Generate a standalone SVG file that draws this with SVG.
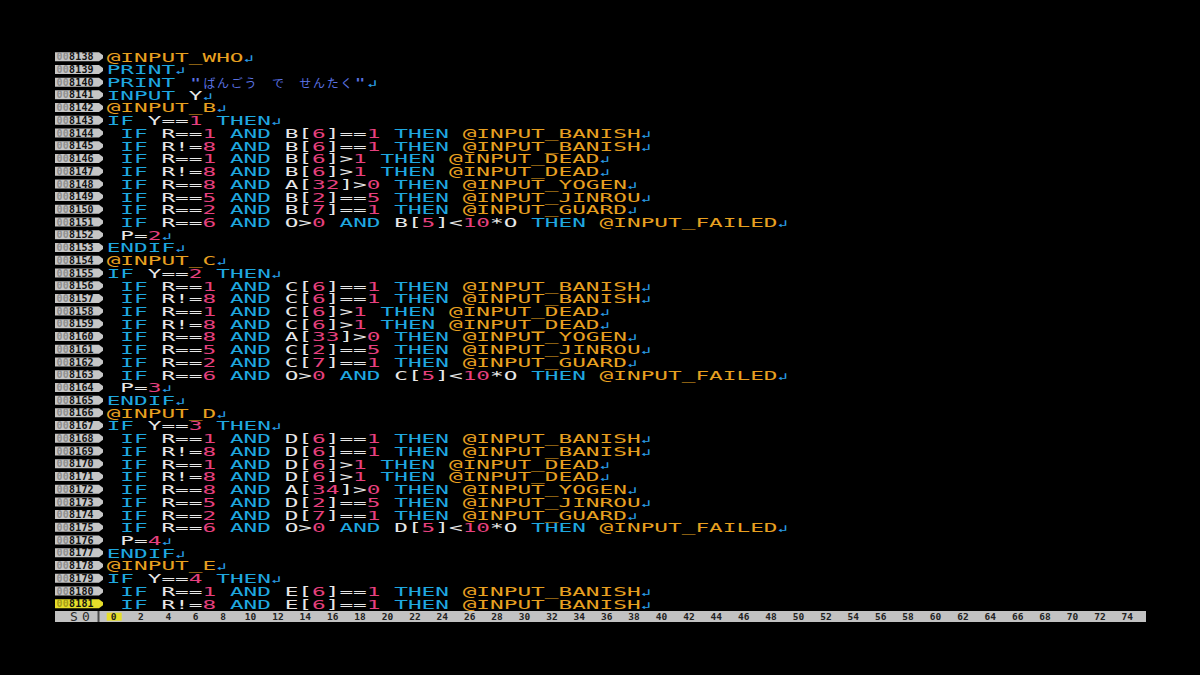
<svg xmlns="http://www.w3.org/2000/svg" xmlns:xlink="http://www.w3.org/1999/xlink" width="1200" height="675" viewBox="0 0 1200 675">
<style>
.code text{font-family:"DejaVu Sans Mono","Liberation Mono",monospace;font-size:13px;fill:#e8e8e8}
.k{fill:#1fa8e0}.l{fill:#e8a020}.n{fill:#e6407e}.s{fill:#5a72e2}.r{fill:#2a9ee8;font-size:10px}
.nb{fill:#c6c6c6}.nbc{fill:#e6de2a}
.ln{font-family:"DejaVu Sans Mono","Liberation Mono",monospace;font-weight:bold;font-size:10px;letter-spacing:0.2px;fill:#111}
.z{fill:#8e8e8e}.zc{fill:#a59c18}
.rn{font-family:"DejaVu Sans Mono","Liberation Mono",monospace;font-weight:bold;font-size:9.5px;fill:#222;text-anchor:middle}
.kana{font-family:"Noto Sans CJK JP",sans-serif;font-size:12px;fill:#5a72e2;text-anchor:middle}
</style>
<defs>
<path id="nbx" d="M0,-4.5 H44 L48,-1.5 V1.5 L44,4.5 H0 Z"/>
</defs>
<rect width="1200" height="675" fill="#000"/>
<g id="linenumbers">
<use xlink:href="#nbx" x="55" y="56.70" class="nb"/><text class="ln" x="56.5" y="60.3"><tspan class="z">00</tspan>8138</text>
<use xlink:href="#nbx" x="55" y="69.42" class="nb"/><text class="ln" x="56.5" y="73.02"><tspan class="z">00</tspan>8139</text>
<use xlink:href="#nbx" x="55" y="82.14" class="nb"/><text class="ln" x="56.5" y="85.74"><tspan class="z">00</tspan>8140</text>
<use xlink:href="#nbx" x="55" y="94.86" class="nb"/><text class="ln" x="56.5" y="98.46"><tspan class="z">00</tspan>8141</text>
<use xlink:href="#nbx" x="55" y="107.58" class="nb"/><text class="ln" x="56.5" y="111.18"><tspan class="z">00</tspan>8142</text>
<use xlink:href="#nbx" x="55" y="120.30" class="nb"/><text class="ln" x="56.5" y="123.90"><tspan class="z">00</tspan>8143</text>
<use xlink:href="#nbx" x="55" y="133.02" class="nb"/><text class="ln" x="56.5" y="136.62"><tspan class="z">00</tspan>8144</text>
<use xlink:href="#nbx" x="55" y="145.74" class="nb"/><text class="ln" x="56.5" y="149.34"><tspan class="z">00</tspan>8145</text>
<use xlink:href="#nbx" x="55" y="158.46" class="nb"/><text class="ln" x="56.5" y="162.06"><tspan class="z">00</tspan>8146</text>
<use xlink:href="#nbx" x="55" y="171.18" class="nb"/><text class="ln" x="56.5" y="174.78"><tspan class="z">00</tspan>8147</text>
<use xlink:href="#nbx" x="55" y="183.90" class="nb"/><text class="ln" x="56.5" y="187.50"><tspan class="z">00</tspan>8148</text>
<use xlink:href="#nbx" x="55" y="196.62" class="nb"/><text class="ln" x="56.5" y="200.22"><tspan class="z">00</tspan>8149</text>
<use xlink:href="#nbx" x="55" y="209.34" class="nb"/><text class="ln" x="56.5" y="212.94"><tspan class="z">00</tspan>8150</text>
<use xlink:href="#nbx" x="55" y="222.06" class="nb"/><text class="ln" x="56.5" y="225.66"><tspan class="z">00</tspan>8151</text>
<use xlink:href="#nbx" x="55" y="234.78" class="nb"/><text class="ln" x="56.5" y="238.38"><tspan class="z">00</tspan>8152</text>
<use xlink:href="#nbx" x="55" y="247.50" class="nb"/><text class="ln" x="56.5" y="251.10"><tspan class="z">00</tspan>8153</text>
<use xlink:href="#nbx" x="55" y="260.22" class="nb"/><text class="ln" x="56.5" y="263.82"><tspan class="z">00</tspan>8154</text>
<use xlink:href="#nbx" x="55" y="272.94" class="nb"/><text class="ln" x="56.5" y="276.54"><tspan class="z">00</tspan>8155</text>
<use xlink:href="#nbx" x="55" y="285.66" class="nb"/><text class="ln" x="56.5" y="289.26"><tspan class="z">00</tspan>8156</text>
<use xlink:href="#nbx" x="55" y="298.38" class="nb"/><text class="ln" x="56.5" y="301.98"><tspan class="z">00</tspan>8157</text>
<use xlink:href="#nbx" x="55" y="311.10" class="nb"/><text class="ln" x="56.5" y="314.70"><tspan class="z">00</tspan>8158</text>
<use xlink:href="#nbx" x="55" y="323.82" class="nb"/><text class="ln" x="56.5" y="327.42"><tspan class="z">00</tspan>8159</text>
<use xlink:href="#nbx" x="55" y="336.54" class="nb"/><text class="ln" x="56.5" y="340.14"><tspan class="z">00</tspan>8160</text>
<use xlink:href="#nbx" x="55" y="349.26" class="nb"/><text class="ln" x="56.5" y="352.86"><tspan class="z">00</tspan>8161</text>
<use xlink:href="#nbx" x="55" y="361.98" class="nb"/><text class="ln" x="56.5" y="365.58"><tspan class="z">00</tspan>8162</text>
<use xlink:href="#nbx" x="55" y="374.70" class="nb"/><text class="ln" x="56.5" y="378.30"><tspan class="z">00</tspan>8163</text>
<use xlink:href="#nbx" x="55" y="387.42" class="nb"/><text class="ln" x="56.5" y="391.02"><tspan class="z">00</tspan>8164</text>
<use xlink:href="#nbx" x="55" y="400.14" class="nb"/><text class="ln" x="56.5" y="403.74"><tspan class="z">00</tspan>8165</text>
<use xlink:href="#nbx" x="55" y="412.86" class="nb"/><text class="ln" x="56.5" y="416.46"><tspan class="z">00</tspan>8166</text>
<use xlink:href="#nbx" x="55" y="425.58" class="nb"/><text class="ln" x="56.5" y="429.18"><tspan class="z">00</tspan>8167</text>
<use xlink:href="#nbx" x="55" y="438.30" class="nb"/><text class="ln" x="56.5" y="441.90"><tspan class="z">00</tspan>8168</text>
<use xlink:href="#nbx" x="55" y="451.02" class="nb"/><text class="ln" x="56.5" y="454.62"><tspan class="z">00</tspan>8169</text>
<use xlink:href="#nbx" x="55" y="463.74" class="nb"/><text class="ln" x="56.5" y="467.34"><tspan class="z">00</tspan>8170</text>
<use xlink:href="#nbx" x="55" y="476.46" class="nb"/><text class="ln" x="56.5" y="480.06"><tspan class="z">00</tspan>8171</text>
<use xlink:href="#nbx" x="55" y="489.18" class="nb"/><text class="ln" x="56.5" y="492.78"><tspan class="z">00</tspan>8172</text>
<use xlink:href="#nbx" x="55" y="501.90" class="nb"/><text class="ln" x="56.5" y="505.50"><tspan class="z">00</tspan>8173</text>
<use xlink:href="#nbx" x="55" y="514.62" class="nb"/><text class="ln" x="56.5" y="518.22"><tspan class="z">00</tspan>8174</text>
<use xlink:href="#nbx" x="55" y="527.34" class="nb"/><text class="ln" x="56.5" y="530.94"><tspan class="z">00</tspan>8175</text>
<use xlink:href="#nbx" x="55" y="540.06" class="nb"/><text class="ln" x="56.5" y="543.66"><tspan class="z">00</tspan>8176</text>
<use xlink:href="#nbx" x="55" y="552.78" class="nb"/><text class="ln" x="56.5" y="556.38"><tspan class="z">00</tspan>8177</text>
<use xlink:href="#nbx" x="55" y="565.50" class="nb"/><text class="ln" x="56.5" y="569.10"><tspan class="z">00</tspan>8178</text>
<use xlink:href="#nbx" x="55" y="578.22" class="nb"/><text class="ln" x="56.5" y="581.82"><tspan class="z">00</tspan>8179</text>
<use xlink:href="#nbx" x="55" y="590.94" class="nb"/><text class="ln" x="56.5" y="594.54"><tspan class="z">00</tspan>8180</text>
<use xlink:href="#nbx" x="55" y="603.66" class="nbc"/><text class="ln" x="56.5" y="607.26"><tspan class="zc">00</tspan>8181</text>
</g>
<g id="code" class="code" transform="matrix(1.7504,0,0,1,106.65,0)">
<text x="0" y="61.60"><tspan class="l">@INPUT_WHO</tspan><tspan class="r">↲</tspan></text>
<text x="0" y="74.32"><tspan class="k">PRINT</tspan><tspan class="r">↲</tspan></text>
<text x="0" y="87.04"><tspan class="k">PRINT</tspan> <tspan class="s">"</tspan></text>
<text x="140.88" y="87.04"><tspan class="s">"</tspan><tspan class="r">↲</tspan></text>
<text x="0" y="99.76"><tspan class="k">INPUT</tspan> Y<tspan class="r">↲</tspan></text>
<text x="0" y="112.48"><tspan class="l">@INPUT_B</tspan><tspan class="r">↲</tspan></text>
<text x="0" y="125.20"><tspan class="k">IF</tspan> Y==<tspan class="n">1</tspan> <tspan class="k">THEN</tspan><tspan class="r">↲</tspan></text>
<text x="7.8267" y="137.92"><tspan class="k">IF</tspan> R==<tspan class="n">1</tspan> <tspan class="k">AND</tspan> B[<tspan class="n">6</tspan>]==<tspan class="n">1</tspan> <tspan class="k">THEN</tspan> <tspan class="l">@INPUT_BANISH</tspan><tspan class="r">↲</tspan></text>
<text x="7.8267" y="150.64"><tspan class="k">IF</tspan> R!=<tspan class="n">8</tspan> <tspan class="k">AND</tspan> B[<tspan class="n">6</tspan>]==<tspan class="n">1</tspan> <tspan class="k">THEN</tspan> <tspan class="l">@INPUT_BANISH</tspan><tspan class="r">↲</tspan></text>
<text x="7.8267" y="163.36"><tspan class="k">IF</tspan> R==<tspan class="n">1</tspan> <tspan class="k">AND</tspan> B[<tspan class="n">6</tspan>]&gt;<tspan class="n">1</tspan> <tspan class="k">THEN</tspan> <tspan class="l">@INPUT_DEAD</tspan><tspan class="r">↲</tspan></text>
<text x="7.8267" y="176.08"><tspan class="k">IF</tspan> R!=<tspan class="n">8</tspan> <tspan class="k">AND</tspan> B[<tspan class="n">6</tspan>]&gt;<tspan class="n">1</tspan> <tspan class="k">THEN</tspan> <tspan class="l">@INPUT_DEAD</tspan><tspan class="r">↲</tspan></text>
<text x="7.8267" y="188.80"><tspan class="k">IF</tspan> R==<tspan class="n">8</tspan> <tspan class="k">AND</tspan> A[<tspan class="n">32</tspan>]&gt;<tspan class="n">0</tspan> <tspan class="k">THEN</tspan> <tspan class="l">@INPUT_YOGEN</tspan><tspan class="r">↲</tspan></text>
<text x="7.8267" y="201.52"><tspan class="k">IF</tspan> R==<tspan class="n">5</tspan> <tspan class="k">AND</tspan> B[<tspan class="n">2</tspan>]==<tspan class="n">5</tspan> <tspan class="k">THEN</tspan> <tspan class="l">@INPUT_JINROU</tspan><tspan class="r">↲</tspan></text>
<text x="7.8267" y="214.24"><tspan class="k">IF</tspan> R==<tspan class="n">2</tspan> <tspan class="k">AND</tspan> B[<tspan class="n">7</tspan>]==<tspan class="n">1</tspan> <tspan class="k">THEN</tspan> <tspan class="l">@INPUT_GUARD</tspan><tspan class="r">↲</tspan></text>
<text x="7.8267" y="226.96"><tspan class="k">IF</tspan> R==<tspan class="n">6</tspan> <tspan class="k">AND</tspan> O&gt;<tspan class="n">0</tspan> <tspan class="k">AND</tspan> B[<tspan class="n">5</tspan>]&lt;<tspan class="n">10</tspan>*O <tspan class="k">THEN</tspan> <tspan class="l">@INPUT_FAILED</tspan><tspan class="r">↲</tspan></text>
<text x="7.8267" y="239.68">P=<tspan class="n">2</tspan><tspan class="r">↲</tspan></text>
<text x="0" y="252.40"><tspan class="k">ENDIF</tspan><tspan class="r">↲</tspan></text>
<text x="0" y="265.12"><tspan class="l">@INPUT_C</tspan><tspan class="r">↲</tspan></text>
<text x="0" y="277.84"><tspan class="k">IF</tspan> Y==<tspan class="n">2</tspan> <tspan class="k">THEN</tspan><tspan class="r">↲</tspan></text>
<text x="7.8267" y="290.56"><tspan class="k">IF</tspan> R==<tspan class="n">1</tspan> <tspan class="k">AND</tspan> C[<tspan class="n">6</tspan>]==<tspan class="n">1</tspan> <tspan class="k">THEN</tspan> <tspan class="l">@INPUT_BANISH</tspan><tspan class="r">↲</tspan></text>
<text x="7.8267" y="303.28"><tspan class="k">IF</tspan> R!=<tspan class="n">8</tspan> <tspan class="k">AND</tspan> C[<tspan class="n">6</tspan>]==<tspan class="n">1</tspan> <tspan class="k">THEN</tspan> <tspan class="l">@INPUT_BANISH</tspan><tspan class="r">↲</tspan></text>
<text x="7.8267" y="316.00"><tspan class="k">IF</tspan> R==<tspan class="n">1</tspan> <tspan class="k">AND</tspan> C[<tspan class="n">6</tspan>]&gt;<tspan class="n">1</tspan> <tspan class="k">THEN</tspan> <tspan class="l">@INPUT_DEAD</tspan><tspan class="r">↲</tspan></text>
<text x="7.8267" y="328.72"><tspan class="k">IF</tspan> R!=<tspan class="n">8</tspan> <tspan class="k">AND</tspan> C[<tspan class="n">6</tspan>]&gt;<tspan class="n">1</tspan> <tspan class="k">THEN</tspan> <tspan class="l">@INPUT_DEAD</tspan><tspan class="r">↲</tspan></text>
<text x="7.8267" y="341.44"><tspan class="k">IF</tspan> R==<tspan class="n">8</tspan> <tspan class="k">AND</tspan> A[<tspan class="n">33</tspan>]&gt;<tspan class="n">0</tspan> <tspan class="k">THEN</tspan> <tspan class="l">@INPUT_YOGEN</tspan><tspan class="r">↲</tspan></text>
<text x="7.8267" y="354.16"><tspan class="k">IF</tspan> R==<tspan class="n">5</tspan> <tspan class="k">AND</tspan> C[<tspan class="n">2</tspan>]==<tspan class="n">5</tspan> <tspan class="k">THEN</tspan> <tspan class="l">@INPUT_JINROU</tspan><tspan class="r">↲</tspan></text>
<text x="7.8267" y="366.88"><tspan class="k">IF</tspan> R==<tspan class="n">2</tspan> <tspan class="k">AND</tspan> C[<tspan class="n">7</tspan>]==<tspan class="n">1</tspan> <tspan class="k">THEN</tspan> <tspan class="l">@INPUT_GUARD</tspan><tspan class="r">↲</tspan></text>
<text x="7.8267" y="379.60"><tspan class="k">IF</tspan> R==<tspan class="n">6</tspan> <tspan class="k">AND</tspan> O&gt;<tspan class="n">0</tspan> <tspan class="k">AND</tspan> C[<tspan class="n">5</tspan>]&lt;<tspan class="n">10</tspan>*O <tspan class="k">THEN</tspan> <tspan class="l">@INPUT_FAILED</tspan><tspan class="r">↲</tspan></text>
<text x="7.8267" y="392.32">P=<tspan class="n">3</tspan><tspan class="r">↲</tspan></text>
<text x="0" y="405.04"><tspan class="k">ENDIF</tspan><tspan class="r">↲</tspan></text>
<text x="0" y="417.76"><tspan class="l">@INPUT_D</tspan><tspan class="r">↲</tspan></text>
<text x="0" y="430.48"><tspan class="k">IF</tspan> Y==<tspan class="n">3</tspan> <tspan class="k">THEN</tspan><tspan class="r">↲</tspan></text>
<text x="7.8267" y="443.20"><tspan class="k">IF</tspan> R==<tspan class="n">1</tspan> <tspan class="k">AND</tspan> D[<tspan class="n">6</tspan>]==<tspan class="n">1</tspan> <tspan class="k">THEN</tspan> <tspan class="l">@INPUT_BANISH</tspan><tspan class="r">↲</tspan></text>
<text x="7.8267" y="455.92"><tspan class="k">IF</tspan> R!=<tspan class="n">8</tspan> <tspan class="k">AND</tspan> D[<tspan class="n">6</tspan>]==<tspan class="n">1</tspan> <tspan class="k">THEN</tspan> <tspan class="l">@INPUT_BANISH</tspan><tspan class="r">↲</tspan></text>
<text x="7.8267" y="468.64"><tspan class="k">IF</tspan> R==<tspan class="n">1</tspan> <tspan class="k">AND</tspan> D[<tspan class="n">6</tspan>]&gt;<tspan class="n">1</tspan> <tspan class="k">THEN</tspan> <tspan class="l">@INPUT_DEAD</tspan><tspan class="r">↲</tspan></text>
<text x="7.8267" y="481.36"><tspan class="k">IF</tspan> R!=<tspan class="n">8</tspan> <tspan class="k">AND</tspan> D[<tspan class="n">6</tspan>]&gt;<tspan class="n">1</tspan> <tspan class="k">THEN</tspan> <tspan class="l">@INPUT_DEAD</tspan><tspan class="r">↲</tspan></text>
<text x="7.8267" y="494.08"><tspan class="k">IF</tspan> R==<tspan class="n">8</tspan> <tspan class="k">AND</tspan> A[<tspan class="n">34</tspan>]&gt;<tspan class="n">0</tspan> <tspan class="k">THEN</tspan> <tspan class="l">@INPUT_YOGEN</tspan><tspan class="r">↲</tspan></text>
<text x="7.8267" y="506.80"><tspan class="k">IF</tspan> R==<tspan class="n">5</tspan> <tspan class="k">AND</tspan> D[<tspan class="n">2</tspan>]==<tspan class="n">5</tspan> <tspan class="k">THEN</tspan> <tspan class="l">@INPUT_JINROU</tspan><tspan class="r">↲</tspan></text>
<text x="7.8267" y="519.52"><tspan class="k">IF</tspan> R==<tspan class="n">2</tspan> <tspan class="k">AND</tspan> D[<tspan class="n">7</tspan>]==<tspan class="n">1</tspan> <tspan class="k">THEN</tspan> <tspan class="l">@INPUT_GUARD</tspan><tspan class="r">↲</tspan></text>
<text x="7.8267" y="532.24"><tspan class="k">IF</tspan> R==<tspan class="n">6</tspan> <tspan class="k">AND</tspan> O&gt;<tspan class="n">0</tspan> <tspan class="k">AND</tspan> D[<tspan class="n">5</tspan>]&lt;<tspan class="n">10</tspan>*O <tspan class="k">THEN</tspan> <tspan class="l">@INPUT_FAILED</tspan><tspan class="r">↲</tspan></text>
<text x="7.8267" y="544.96">P=<tspan class="n">4</tspan><tspan class="r">↲</tspan></text>
<text x="0" y="557.68"><tspan class="k">ENDIF</tspan><tspan class="r">↲</tspan></text>
<text x="0" y="570.40"><tspan class="l">@INPUT_E</tspan><tspan class="r">↲</tspan></text>
<text x="0" y="583.12"><tspan class="k">IF</tspan> Y==<tspan class="n">4</tspan> <tspan class="k">THEN</tspan><tspan class="r">↲</tspan></text>
<text x="7.8267" y="595.84"><tspan class="k">IF</tspan> R==<tspan class="n">1</tspan> <tspan class="k">AND</tspan> E[<tspan class="n">6</tspan>]==<tspan class="n">1</tspan> <tspan class="k">THEN</tspan> <tspan class="l">@INPUT_BANISH</tspan><tspan class="r">↲</tspan></text>
<text x="7.8267" y="608.56"><tspan class="k">IF</tspan> R!=<tspan class="n">8</tspan> <tspan class="k">AND</tspan> E[<tspan class="n">6</tspan>]==<tspan class="n">1</tspan> <tspan class="k">THEN</tspan> <tspan class="l">@INPUT_BANISH</tspan><tspan class="r">↲</tspan></text>
</g>
<text class="kana" y="88" x="209.4 223.1 236.8 250.5 277.9 305.3 319.0 332.7 346.4">ばんごうでせんたく</text>
<g id="ruler">
<rect x="55" y="611" width="1091" height="11" fill="#c2c2c2"/>
<rect x="97.5" y="611" width="2" height="11" fill="#4a4a4a"/>
<rect x="106.7" y="612.7" width="15" height="8" fill="#e6de2a"/>
<text x="74 86" y="621.2" style="font-family:'DejaVu Sans Mono','Liberation Mono',monospace;font-size:13px;fill:#2a2a2a;text-anchor:middle">S0</text>
<text class="rn" y="620.2"><tspan x="113.5">0</tspan><tspan x="140.9">2</tspan><tspan x="168.3">4</tspan><tspan x="195.7">6</tspan><tspan x="223.1">8</tspan><tspan x="250.5">10</tspan><tspan x="277.9">12</tspan><tspan x="305.3">14</tspan><tspan x="332.7">16</tspan><tspan x="360.1">18</tspan><tspan x="387.5">20</tspan><tspan x="414.9">22</tspan><tspan x="442.3">24</tspan><tspan x="469.7">26</tspan><tspan x="497.1">28</tspan><tspan x="524.5">30</tspan><tspan x="551.9">32</tspan><tspan x="579.3">34</tspan><tspan x="606.7">36</tspan><tspan x="634.1">38</tspan><tspan x="661.5">40</tspan><tspan x="688.9">42</tspan><tspan x="716.3">44</tspan><tspan x="743.7">46</tspan><tspan x="771.1">48</tspan><tspan x="798.5">50</tspan><tspan x="825.9">52</tspan><tspan x="853.3">54</tspan><tspan x="880.7">56</tspan><tspan x="908.1">58</tspan><tspan x="935.5">60</tspan><tspan x="962.9">62</tspan><tspan x="990.3">64</tspan><tspan x="1017.7">66</tspan><tspan x="1045.1">68</tspan><tspan x="1072.5">70</tspan><tspan x="1099.9">72</tspan><tspan x="1127.3">74</tspan></text>
</g>
</svg>
